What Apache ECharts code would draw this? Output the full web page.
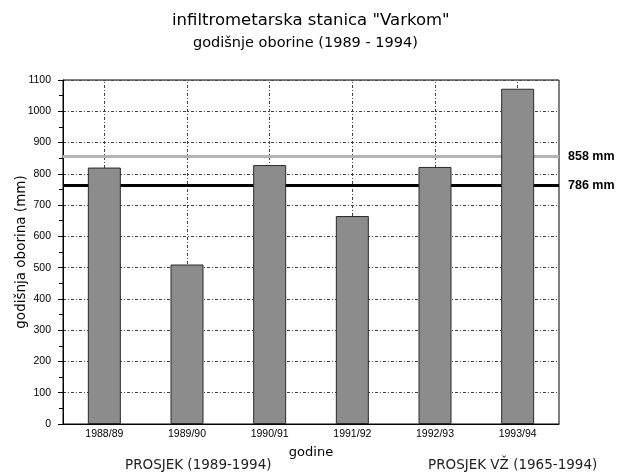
<!DOCTYPE html>
<html>
<head>
<meta charset="utf-8">
<script src="https://cdn.jsdelivr.net/npm/echarts@6/dist/echarts.min.js"></script>
<style>html,body{margin:0;padding:0;background:#fff}#c{width:631px;height:474px}</style>
</head>
<body>
<div id="c"></div>
<script>
const categories = ['1988/89', '1989/90', '1990/91', '1991/92', '1992/93', '1993/94'];
const precipitation = [820, 510, 828, 665, 822, 1072];
const meanLineValues = [855, 762];
const meanLineLabels = ['858 mm', '786 mm'];
const meanLineColors = ['#b4b4b4', '#000000'];
const yTicks = { min: 0, max: 1100, interval: 100 };
const titleText = 'infiltrometarska stanica "Varkom"';
const subtitleText = 'godišnje oborine (1989 - 1994)';
const yAxisName = 'godišnja oborina (mm)';
const xAxisName = 'godine';
const legendTexts = ['PROSJEK (1989-1994)', 'PROSJEK VŽ (1965-1994)'];

const FONT = 'Liberation Sans, Arial, sans-serif';
const WIDE = 'DejaVu Sans, Verdana, sans-serif';
const chart = echarts.init(document.getElementById('c'), null, { renderer: 'canvas' });

const gridLine = { color: '#444', type: [3, 2, 1, 2], width: 1 };

const markLineData = [];
categories.forEach(c => markLineData.push({ xAxis: c, lineStyle: gridLine, label: { show: false } }));
meanLineValues.forEach((v, i) => markLineData.push({
  yAxis: v,
  lineStyle: { color: meanLineColors[i], width: 3, type: 'solid' },
  label: { show: true, position: 'end', formatter: meanLineLabels[i], color: '#000', fontSize: 12.5, fontWeight: 'bold', fontFamily: FONT, distance: 9 }
}));

chart.setOption({
  animation: false,
  backgroundColor: '#fff',
  grid: { left: 63, right: 72, top: 80, bottom: 50, show: true, borderColor: '#000', borderWidth: 1, backgroundColor: 'transparent' },
  xAxis: {
    type: 'category',
    data: categories,
    name: xAxisName,
    nameLocation: 'middle',
    nameGap: 22,
    nameTextStyle: { fontSize: 13, color: '#000', fontFamily: WIDE },
    axisLine: { lineStyle: { color: '#000' } },
    axisTick: { alignWithLabel: true, length: 4, lineStyle: { color: '#000' } },
    axisLabel: { fontSize: 10.5, color: '#000', fontFamily: FONT, margin: 5 },
    splitLine: { show: false }
  },
  yAxis: {
    type: 'value',
    min: yTicks.min, max: yTicks.max, interval: yTicks.interval,
    axisLine: { show: true, lineStyle: { color: '#000' } },
    axisTick: { show: true, length: 5, lineStyle: { color: '#000' } },
    minorTick: { show: true, splitNumber: 2, length: 4, lineStyle: { color: '#000' } },
    axisLabel: { fontSize: 10.5, color: '#000', fontFamily: FONT, margin: 12, formatter: v => String(v) },
    splitLine: { show: true, lineStyle: gridLine }
  },
  series: [{
    type: 'bar',
    data: precipitation,
    barWidth: 33,
    z: 3,
    itemStyle: { color: '#8c8c8c', borderColor: '#2a2a2a', borderWidth: 1 },
    markLine: {
      silent: true,
      z: 1,
      symbol: ['none', 'none'],
      animation: false,
      data: markLineData
    }
  }],
  graphic: [
    { type: 'text', left: 172, top: 12, style: { text: titleText, font: '16.5px ' + WIDE, fill: '#000' } },
    { type: 'text', left: 193, top: 36, style: { text: subtitleText, font: '14.5px ' + WIDE, fill: '#000' } },
    { type: 'text', x: 21, y: 252, rotation: Math.PI / 2, style: { text: yAxisName, font: '13.5px ' + WIDE, fill: '#000', align: 'center', verticalAlign: 'middle' } },
    { type: 'text', left: 125, top: 458, style: { text: legendTexts[0], font: '13.5px ' + WIDE, fill: '#222' } },
    { type: 'text', left: 428, top: 458, style: { text: legendTexts[1], font: '13.5px ' + WIDE, fill: '#222' } }
  ]
});
</script>
</body>
</html>
